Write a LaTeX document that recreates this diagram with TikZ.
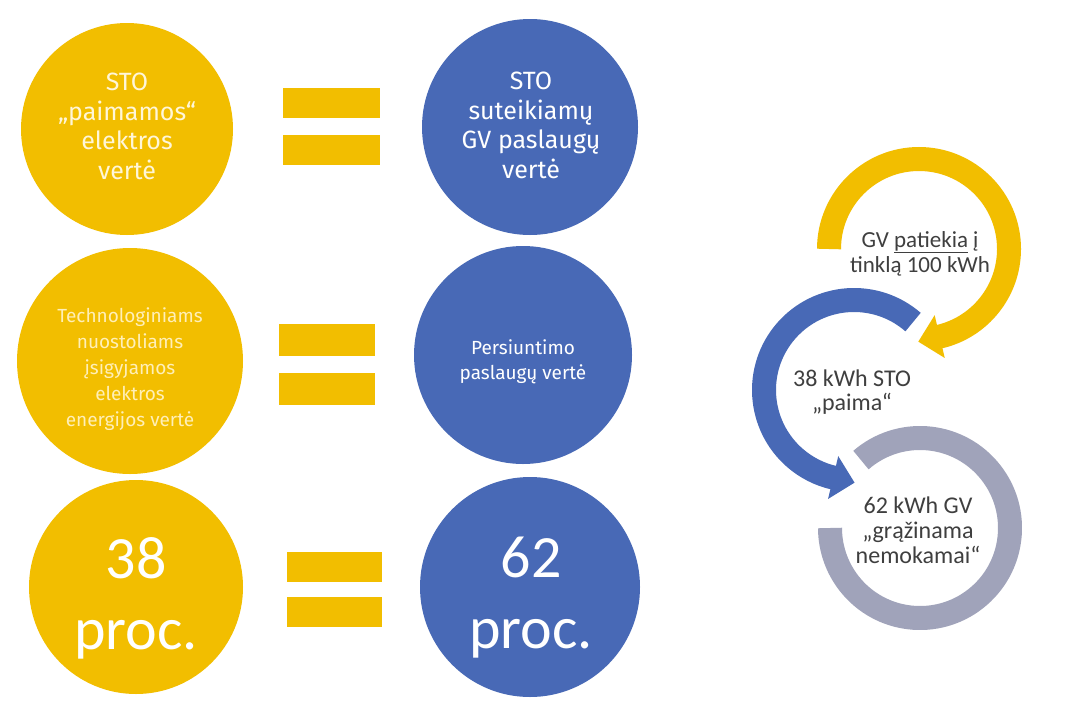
\documentclass[tikz,border=0pt]{standalone}
\usepackage{fontspec}
\setmainfont{Carlito}
\newfontfamily\fira{Fira Sans}
\usetikzlibrary{calc}
\definecolor{ylw}{HTML}{F2BE00}
\definecolor{blu}{HTML}{4869B6}
\definecolor{gry}{HTML}{A0A3BA}
\definecolor{dtxt}{HTML}{3F3F3F}
\definecolor{cream}{HTML}{FFF6D8}
\definecolor{cream2}{HTML}{FFEFB8}
\begin{document}
\begin{tikzpicture}[x=1pt,y=-1pt,
  ycirc/.style={circle,fill=ylw,inner sep=0pt},
  bcirc/.style={circle,fill=blu,inner sep=0pt},
  eqbar/.style={rectangle,fill=ylw,inner sep=0pt,minimum width=97pt,minimum height=30pt},
  ctext/.style={align=center,inner sep=0pt,anchor=north},
  ring/.style={line width=24pt},
]
\fill[white] (0,0) rectangle (1067,704);
\useasboundingbox (0,0) rectangle (1067,704);

% ---- row 1
\node[ycirc,minimum size=212pt] (y1) at (127,129) {};
\node[bcirc,minimum size=216pt] (b1) at (530,127) {};
\node[eqbar] (e1a) at (331.5,103) {};
\node[eqbar] (e1b) at (331.5,150) {};
\node[ctext,text=cream,font=\fira\fontsize{25}{29.5}\selectfont] (t1) at (127,73) {STO\\„paimamos“\\elektros\\vertė};
\node[ctext,text=white,font=\fira\fontsize{25}{29.5}\selectfont] (t2) at (531,72) {STO\\suteikiamų\\GV paslaugų\\vertė};

% ---- row 2
\node[ycirc,minimum size=226pt] (y2) at (130,361) {};
\node[bcirc,minimum size=218pt] (b2) at (523,355) {};
\node[eqbar,minimum width=96pt,minimum height=32pt] (e2a) at (327,340) {};
\node[eqbar,minimum width=96pt,minimum height=32pt] (e2b) at (327,389) {};
\node[ctext,text=cream2,font=\fira\fontsize{19}{26}\selectfont] (t3) at (130,307) {Technologiniams\\nuostoliams\\įsigyjamos\\elektros\\energijos vertė};
\node[ctext,text=white,font=\fira\fontsize{19}{25}\selectfont] (t4) at (523,339) {Persiuntimo\\paslaugų vertė};

% ---- row 3
\node[ycirc,minimum size=214pt] (y3) at (136,587) {};
\node[bcirc,minimum size=220pt] (b3) at (530,587) {};
\node[eqbar,minimum width=95pt] (e3a) at (334.5,567) {};
\node[eqbar,minimum width=95pt] (e3b) at (334.5,612) {};
\node[ctext,text=white,font=\fontsize{60}{71}\selectfont] (t5) at (136,537) {38\\proc.};
\node[ctext,text=white,font=\fontsize{60}{71}\selectfont] (t6) at (531,537) {62\\proc.};

% ---- right panel: circular arrows
\coordinate (yc) at (919,249);
\coordinate (bc) at (854,390);
\coordinate (gc) at (920,528);

\draw[ring,gry] (gc) ++(229:90) arc[start angle=229,end angle=540,radius=90];

\draw[ring,blu] (bc) ++(311:90) arc[start angle=311,end angle=102.9,radius=90];
\path (bc) ++(103.4:90) coordinate (bb);
\fill[blu] ([shift={(103.4:22)}]bb) -- ([shift={(13.4:22)}]bb) -- ([shift={(283.4:22)}]bb) -- cycle;

\draw[ring,ylw] (yc) ++(180:90) arc[start angle=180,end angle=437.2,radius=90];
\path (yc) ++(76.7:90) coordinate (yb);
\fill[ylw] ([shift={(76.7:22)}]yb) -- ([shift={(166.7:22)}]yb) -- ([shift={(256.7:22)}]yb) -- cycle;

\node[ctext,text=dtxt,font=\fontsize{23}{25}\selectfont] (t7) at (920,231) {GV \underline{patiekia} į\\tinklą 100 kWh};
\node[ctext,text=dtxt,font=\fontsize{24}{24}\selectfont] (t8) at (852,370) {38 kWh STO\\„paima“};
\node[ctext,text=dtxt,font=\fontsize{24}{25}\selectfont] (t9) at (918,497) {62 kWh GV\\„grąžinama\\nemokamai“};
\end{tikzpicture}
\end{document}
